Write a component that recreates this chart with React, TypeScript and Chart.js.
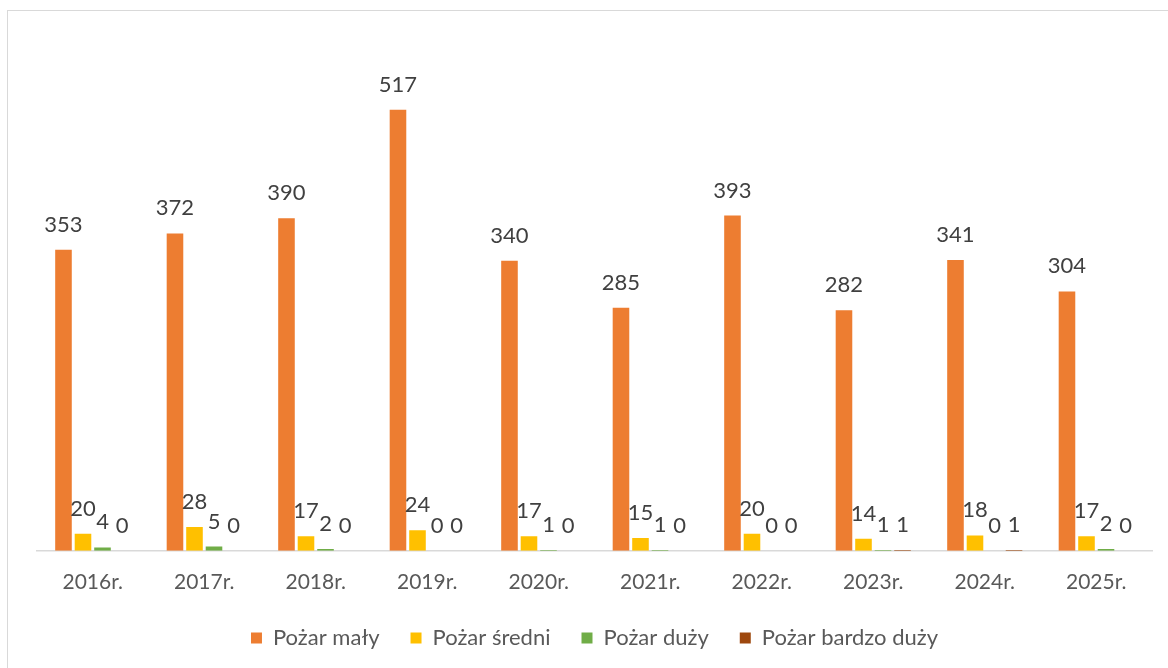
import React, { useEffect, useRef } from "react";
import { Chart, registerables } from "chart.js";

Chart.register(...registerables);

const categories = ["2016r.", "2017r.", "2018r.", "2019r.", "2020r.", "2021r.", "2022r.", "2023r.", "2024r.", "2025r."];
const pozarMaly = [353, 372, 390, 517, 340, 285, 393, 282, 341, 304];
const pozarSredni = [20, 28, 17, 24, 17, 15, 20, 14, 18, 17];
const pozarDuzy = [4, 5, 2, 0, 1, 1, 0, 1, 0, 2];
const pozarBardzoDuzy = [0, 0, 0, 0, 0, 0, 0, 1, 1, 0];

const FONT = "Lato, 'Open Sans', 'Noto Sans', sans-serif";
const CANVAS_H = 679;

const valueLabels = {
  id: "valueLabels",
  afterDatasetsDraw(chart: any) {
    const ctx = chart.ctx;
    ctx.save();
    ctx.font = `22px ${FONT}`;
    ctx.fillStyle = "#404040";
    ctx.textAlign = "center";
    ctx.textBaseline = "alphabetic";
    chart.data.datasets.forEach((ds: any, i: number) => {
      const meta = chart.getDatasetMeta(i);
      meta.data.forEach((bar: any, j: number) => {
        ctx.fillText(String(ds.data[j]), bar.x, bar.y - 18);
      });
    });
    ctx.restore();
  },
};

export default function App() {
  const ref = useRef<HTMLCanvasElement>(null);
  useEffect(() => {
    if (!ref.current) return;
    const bar = (label: string, data: number[], color: string) => ({
      label,
      data,
      backgroundColor: color,
      borderWidth: 0,
      categoryPercentage: 0.7,
      barPercentage: 0.85,
    });
    const chart = new Chart(ref.current, {
      type: "bar",
      data: {
        labels: categories,
        datasets: [
          bar("Pożar mały", pozarMaly, "#ED7D31"),
          bar("Pożar średni", pozarSredni, "#FFC000"),
          bar("Pożar duży", pozarDuzy, "#70AD47"),
          bar("Pożar bardzo duży", pozarBardzoDuzy, "#9E480E"),
        ],
      },
      options: {
        responsive: false,
        animation: false,
        layout: { padding: { left: 37, right: 16, top: 39, bottom: 20 } },
        scales: {
          x: {
            grid: { display: false, drawTicks: false },
            border: { display: true, color: "#d9d9d9", width: 1.5 },
            ticks: { color: "#595959", font: { family: FONT, size: 21 }, padding: 19 },
            afterFit: (scale: any) => {
              scale.height -= 18;
            },
          },
          y: { display: false, min: 0, max: 600 },
        },
        plugins: {
          legend: {
            position: "bottom",
            labels: {
              boxWidth: 11,
              boxHeight: 11,
              padding: 31,
              color: "#595959",
              font: { family: FONT, size: 22 },
            },
          },
          tooltip: { enabled: false },
        },
      },
      plugins: [valueLabels],
    });
    return () => chart.destroy();
  }, []);
  return (
    <div style={{ position: "fixed", inset: 0, overflow: "hidden", background: "#fff" }}>
      <div
        style={{
          position: "absolute",
          left: 7,
          top: 10,
          width: 2000,
          height: 2000,
          borderTop: "1px solid #d9d9d9",
          borderLeft: "1px solid #d9d9d9",
        }}
      />
      <canvas
        ref={ref}
        width={1168}
        height={CANVAS_H}
        style={{ position: "absolute", left: 0, top: 0, width: 1168, height: CANVAS_H }}
      />
    </div>
  );
}
